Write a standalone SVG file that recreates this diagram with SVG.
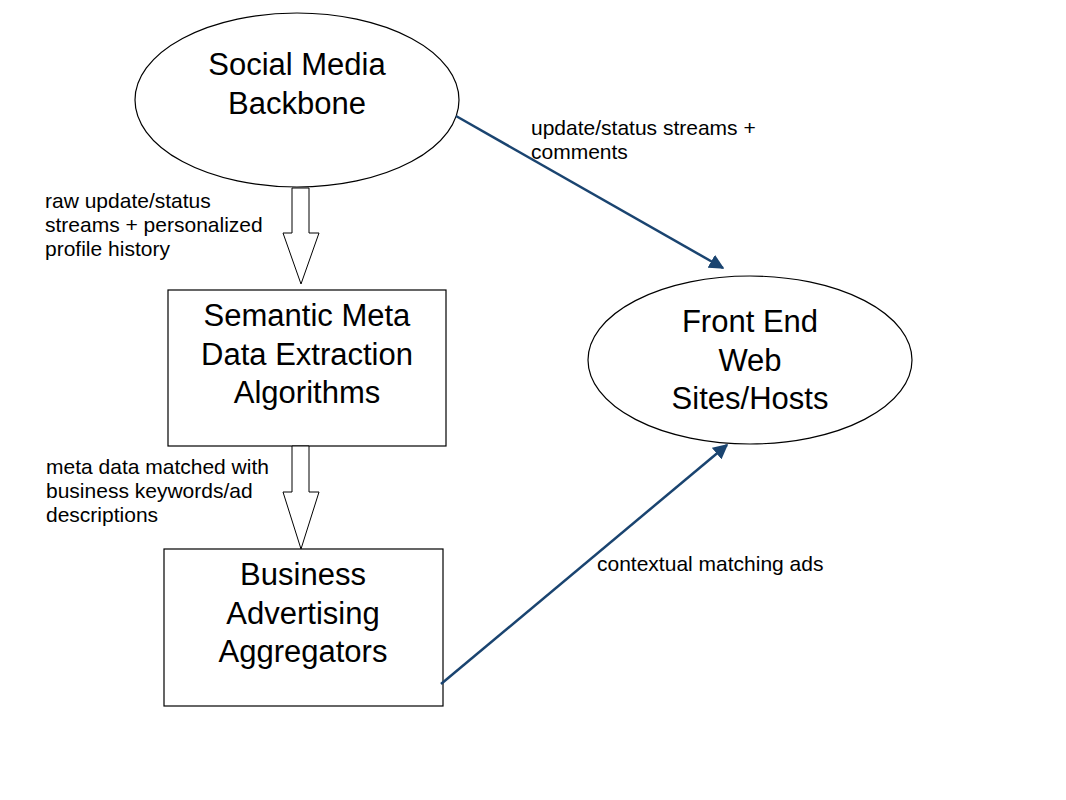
<svg xmlns="http://www.w3.org/2000/svg" width="1066" height="800" viewBox="0 0 1066 800">
<style>
.node{fill:#fff;stroke:#000;stroke-width:1.2}
.nt{font-family:"Liberation Sans",Arial,sans-serif;font-size:31px;fill:#000;text-anchor:middle}
.lb{font-family:"Liberation Sans",Arial,sans-serif;font-size:21px;fill:#000}
.conn{stroke:#1a4470;stroke-width:2.5;fill:none}
.blk{fill:#fff;stroke:#000;stroke-width:1}
</style>
<defs>
<marker id="ah" viewBox="0 0 10 10" refX="9" refY="5" markerWidth="6" markerHeight="6" markerUnits="strokeWidth" orient="auto">
<path d="M0,0 L10,5 L0,10 z" fill="#1a4470"/>
</marker>
</defs>
<rect width="1066" height="800" fill="#fff"/>
<g id="n1">
<ellipse class="node" cx="297" cy="100" rx="162" ry="87"/>
<text class="nt" x="297" y="75">Social Media</text>
<text class="nt" x="297" y="114">Backbone</text>
</g>
<g id="n2">
<rect class="node" x="168" y="290" width="278" height="156"/>
<text class="nt" x="307" y="326">Semantic Meta</text>
<text class="nt" x="307" y="365">Data Extraction</text>
<text class="nt" x="307" y="403">Algorithms</text>
</g>
<g id="n3">
<rect class="node" x="164" y="549" width="279" height="157"/>
<text class="nt" x="303" y="585">Business</text>
<text class="nt" x="303" y="624">Advertising</text>
<text class="nt" x="303" y="662">Aggregators</text>
</g>
<g id="n4">
<ellipse class="node" cx="750" cy="360" rx="162" ry="84"/>
<text class="nt" x="750" y="332">Front End</text>
<text class="nt" x="750" y="371">Web</text>
<text class="nt" x="750" y="409">Sites/Hosts</text>
</g>
<g id="connectors">
<path class="blk" d="M292,188 L309,188 L309,233 L319,233 L301,284 L283,233 L292,233 z"/>
<path class="blk" d="M292,446 L309,446 L309,492 L319,492 L301,549 L283,492 L292,492 z"/>
<line class="conn" x1="456" y1="116" x2="723" y2="268" marker-end="url(#ah)"/>
<line class="conn" x1="441" y1="684" x2="727" y2="445" marker-end="url(#ah)"/>
</g>
<g id="labels">
<text class="lb" x="531" y="135">update/status streams +</text>
<text class="lb" x="531" y="159">comments</text>
<text class="lb" x="45" y="208">raw update/status</text>
<text class="lb" x="45" y="232">streams + personalized</text>
<text class="lb" x="45" y="256">profile history</text>
<text class="lb" x="46" y="474">meta data matched with</text>
<text class="lb" x="46" y="498">business keywords/ad</text>
<text class="lb" x="46" y="522">descriptions</text>
<text class="lb" x="597" y="571">contextual matching ads</text>
</g>
</svg>
